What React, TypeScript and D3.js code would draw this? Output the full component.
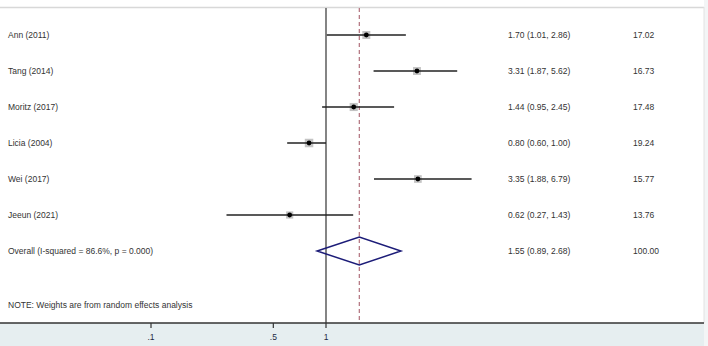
import React from "react";
import * as d3 from "d3";

const studies = ["Ann (2011)", "Tang (2014)", "Moritz (2017)", "Licia (2004)", "Wei (2017)", "Jeeun (2021)"];
const estimates = [1.70, 3.31, 1.44, 0.80, 3.35, 0.62];
const lowers = [1.01, 1.87, 0.95, 0.60, 1.88, 0.27];
const uppers = [2.86, 5.62, 2.45, 1.00, 6.79, 1.43];
const weights = [17.02, 16.73, 17.48, 19.24, 15.77, 13.76];
const overallLabel = "Overall  (I-squared = 86.6%, p = 0.000)";
const overall = { est: 1.55, lo: 0.89, hi: 2.68, weight: 100.0 };
const tickValues = [0.1, 0.5, 1];
const tickLabels = [".1", ".5", "1"];
const note = "NOTE: Weights are from random effects analysis";

const W = 708, H = 346;

export default function App() {
  const x = d3.scaleLog().domain([0.1, 1]).range([151, 326]);
  const rows = d3.range(studies.length + 1);
  const y = d3.scalePoint<number>().domain(rows).range([35, 251]);
  const axisY = 323;
  const font = "'Liberation Sans', Arial, sans-serif";
  const fs = 8.5;
  const sq = d3.scaleSqrt().domain([0, 17.02]).range([0, 8]);
  const fmt = d3.format(".2f");
  const ovY = y(studies.length)!;
  const diamond = d3.line()([
    [x(overall.lo), ovY],
    [x(overall.est), ovY - 14],
    [x(overall.hi), ovY],
    [x(overall.est), ovY + 14],
  ]) + "Z";

  return (
    <svg width={W} height={H} style={{ position: "absolute", left: 0, top: 0, display: "block" }}>
      <rect x={0} y={0} width={W} height={H} fill="#f3f5f6" />
      <rect x={0} y={0} width={704} height={axisY} fill="#ffffff" />
      <rect x={0} y={0} width={704} height={7} fill="#ffffff" />
      <line x1={0} x2={704} y1={7.5} y2={7.5} stroke="#d8d8d8" strokeWidth={1.5} />
      <line x1={704} x2={704} y1={7} y2={axisY} stroke="#e2e2e2" strokeWidth={1} />
      <rect x={0} y={axisY} width={704} height={H - axisY} fill="#e6eef0" />

      {/* null line */}
      <line x1={x(1)} x2={x(1)} y1={8} y2={axisY} stroke="#666666" strokeWidth={1.6} />
      {/* overall dashed line */}
      <line x1={x(overall.est)} x2={x(overall.est)} y1={8} y2={axisY} stroke="#b0707c" strokeWidth={1.2} strokeDasharray="4,3" />

      {studies.map((s, i) => {
        const cy = y(i)!;
        const side = sq(weights[i]);
        return (
          <g key={s}>
            <text x={8} y={cy + 3} fontSize={fs} fontFamily={font} fill="#333">{s}</text>
            <rect x={x(estimates[i]) - side / 2} y={cy - side / 2} width={side} height={side} fill="#c4c4c4" />
            <line x1={x(lowers[i])} x2={x(uppers[i])} y1={cy} y2={cy} stroke="#222" strokeWidth={1.6} />
            <circle cx={x(estimates[i])} cy={cy} r={2.4} fill="#000" />
            <text x={508} y={cy + 3} fontSize={fs} fontFamily={font} fill="#333">
              {`${fmt(estimates[i])} (${fmt(lowers[i])}, ${fmt(uppers[i])})`}
            </text>
            <text x={633} y={cy + 3} fontSize={fs} fontFamily={font} fill="#333">{fmt(weights[i])}</text>
          </g>
        );
      })}

      <text x={8} y={ovY + 3} fontSize={fs} fontFamily={font} fill="#333">{overallLabel}</text>
      <path d={diamond} fill="none" stroke="#1c1c78" strokeWidth={1.5} />
      <text x={508} y={ovY + 3} fontSize={fs} fontFamily={font} fill="#333">
        {`${fmt(overall.est)} (${fmt(overall.lo)}, ${fmt(overall.hi)})`}
      </text>
      <text x={633} y={ovY + 3} fontSize={fs} fontFamily={font} fill="#333">{fmt(overall.weight)}</text>

      <text x={8} y={308} fontSize={fs} fontFamily={font} fill="#333">{note}</text>

      {/* axis */}
      <line x1={0} x2={704} y1={axisY} y2={axisY} stroke="#333" strokeWidth={1.5} />
      {tickValues.map((t, i) => (
        <g key={t}>
          <line x1={x(t)} x2={x(t)} y1={axisY} y2={axisY + 5} stroke="#333" strokeWidth={1.2} />
          <text x={x(t)} y={axisY + 17} fontSize={fs} fontFamily={font} fill="#1e2a44" textAnchor="middle">{tickLabels[i]}</text>
        </g>
      ))}
    </svg>
  );
}
